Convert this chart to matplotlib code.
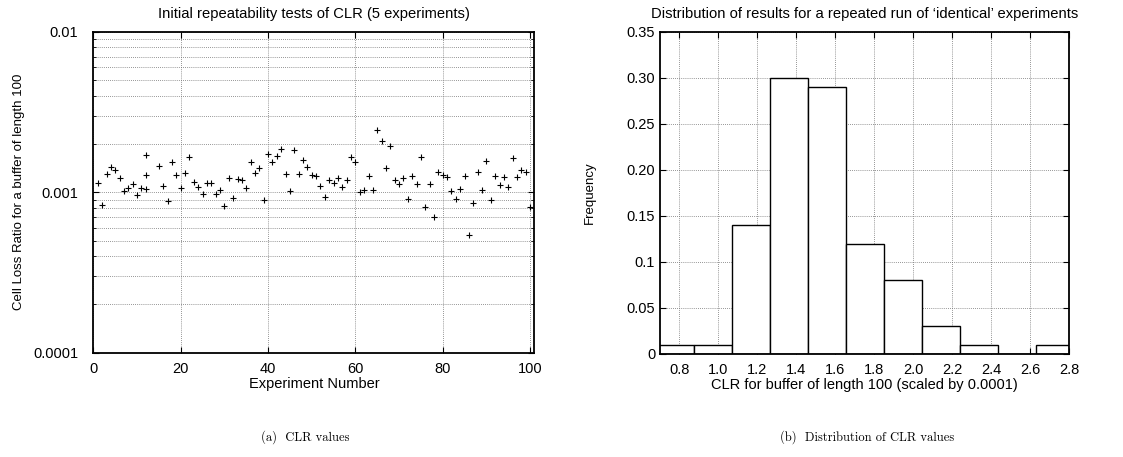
import matplotlib
matplotlib.use('Agg')
import matplotlib.pyplot as plt
from matplotlib.ticker import FixedLocator, FixedFormatter, LogLocator, NullFormatter

plt.rcParams['font.family'] = ['Liberation Sans', 'DejaVu Sans']

# (a) CLR values, one per experiment
experiment = list(range(1, 12)) + [12, 12, 12] + list(range(15, 101))
clr = [1.148, 0.834, 1.306, 1.444, 1.371, 1.222, 1.019, 1.064, 1.126, 0.958,
       1.059, 1.708, 1.287, 1.053, 1.458, 1.090, 0.886, 1.537, 1.287, 1.068,
       1.325, 1.667, 1.154, 1.079, 0.972, 1.143, 1.143, 0.980, 1.034, 0.818,
       1.222, 0.921, 1.210, 1.188, 1.064, 1.537, 1.325, 1.417, 0.895, 1.740,
       1.544, 1.676, 1.861, 1.295, 1.019, 1.824, 1.300, 1.583, 1.444, 1.282,
       1.264, 1.099, 0.939, 1.188, 1.143, 1.222, 1.074, 1.198, 1.652, 1.537,
       1.004, 1.034, 1.258, 1.034, 2.435, 2.078, 1.423, 1.944, 1.193, 1.122,
       1.233, 0.912, 1.258, 1.122, 1.652, 0.813, 1.126, 0.698, 1.339, 1.276,
       1.237, 1.019, 0.905, 1.044, 1.270, 0.540, 0.858, 1.332, 1.034, 1.567,
       0.895, 1.264, 1.110, 1.243, 1.084, 1.635, 1.237, 1.377, 1.339, 0.813]
clr = [v * 1e-3 for v in clr]

# (b) histogram of CLR (scaled by 0.0001)
bin_left = [0.68, 0.875, 1.07, 1.265, 1.46, 1.655, 1.85, 2.045, 2.24, 2.435, 2.63]
bin_width = 0.195
freq = [0.01, 0.01, 0.14, 0.30, 0.29, 0.12, 0.08, 0.03, 0.01, 0.0, 0.01]
hist_xticks = [0.8, 1.0, 1.2, 1.4, 1.6, 1.8, 2.0, 2.2, 2.4, 2.6, 2.8]
hist_xlabels = ['0.8', '1.0', '1.2', '1.4', '1.6', '1.8', '2.0', '2.2', '2.4', '2.6', '2.8']
hist_yticks = [0, 0.05, 0.1, 0.15, 0.20, 0.25, 0.30, 0.35]
hist_ylabels = ['0', '0.05', '0.1', '0.15', '0.20', '0.25', '0.30', '0.35']

fs = 9.5
grid_kw = dict(color='0.45', linestyle=(0, (1, 1.5)), linewidth=0.6)

fig = plt.figure(figsize=(11.23, 4.57), dpi=100)

# left panel
ax1 = fig.add_axes([0.0832, 0.228, 0.3927, 0.7025])
ax1.plot(experiment, clr, linestyle='none', marker='+', color='black',
         markersize=5, markeredgewidth=0.8)
ax1.set_yscale('log')
ax1.set_ylim(1e-4, 1e-2)
ax1.set_xlim(0, 101)
ax1.xaxis.set_major_locator(FixedLocator([0, 20, 40, 60, 80, 100]))
ax1.yaxis.set_major_locator(FixedLocator([1e-4, 1e-3, 1e-2]))
ax1.yaxis.set_major_formatter(FixedFormatter(['0.0001', '0.001', '0.01']))
ax1.yaxis.set_minor_locator(LogLocator(base=10, subs=range(2, 10)))
ax1.yaxis.set_minor_formatter(NullFormatter())
ax1.grid(True, which='both', axis='y', **grid_kw)
ax1.grid(True, which='major', axis='x', **grid_kw)
ax1.tick_params(which='both', direction='in', top=True, right=True, labelsize=fs + 1)
ax1.tick_params(which='major', length=4)
ax1.tick_params(which='minor', length=2.5)
ax1.tick_params(axis='y', pad=11)
ax1.tick_params(axis='x', pad=6.5)
for s in ax1.spines.values():
    s.set_linewidth(1.3)
ax1.set_title('Initial repeatability tests of CLR (5 experiments)', fontsize=10.6, pad=10)
ax1.set_xlabel('Experiment Number', fontsize=fs + 1, labelpad=1)
ax1.set_ylabel('Cell Loss Ratio for a buffer of length 100', fontsize=fs, labelpad=6)

# right panel
ax2 = fig.add_axes([0.5877, 0.2254, 0.3642, 0.7046])
ax2.bar(bin_left, freq, width=bin_width, align='edge', color='white',
        edgecolor='black', linewidth=1.0, zorder=3)
ax2.set_xlim(0.7, 2.8)
ax2.set_ylim(0, 0.35)
ax2.xaxis.set_major_locator(FixedLocator(hist_xticks))
ax2.xaxis.set_major_formatter(FixedFormatter(hist_xlabels))
ax2.yaxis.set_major_locator(FixedLocator(hist_yticks))
ax2.yaxis.set_major_formatter(FixedFormatter(hist_ylabels))
ax2.grid(True, **grid_kw)
ax2.set_axisbelow(True)
ax2.tick_params(direction='in', top=True, right=True, length=4, labelsize=fs + 1)
ax2.tick_params(axis='x', pad=6.5)
for s in ax2.spines.values():
    s.set_linewidth(1.3)
    s.set_zorder(4)
ax2.set_title("Distribution of results for a repeated run of \u2018identical\u2019 experiments",
              fontsize=10.6, pad=10)
ax2.set_xlabel('CLR for buffer of length 100 (scaled by 0.0001)', fontsize=fs + 1, labelpad=1)
ax2.set_ylabel('Frequency', fontsize=fs, labelpad=22)

# captions
fig.text(0.272, 0.035, '(a)  CLR values', fontname='cmr10', fontsize=9, ha='center')
fig.text(0.772, 0.035, '(b)  Distribution of CLR values', fontname='cmr10', fontsize=9, ha='center')

fig.savefig('out.png', dpi=100)
